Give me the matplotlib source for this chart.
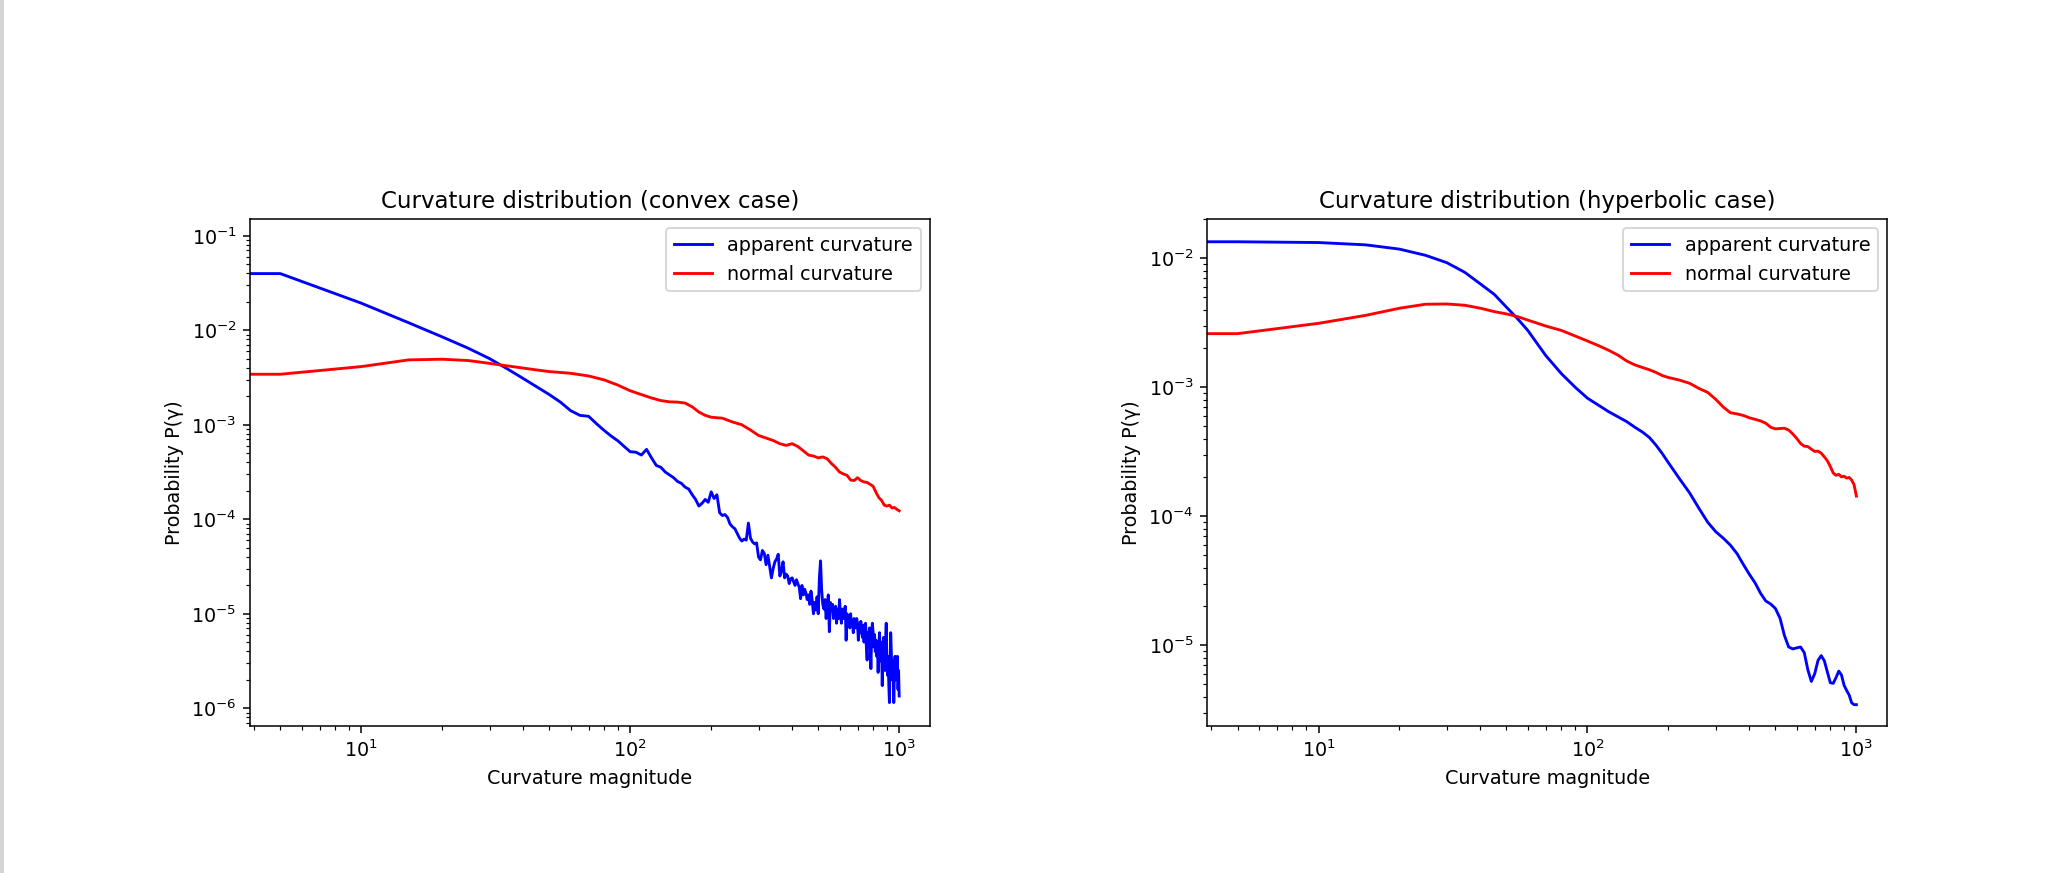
import numpy as np
import matplotlib
matplotlib.use('Agg')
import matplotlib.pyplot as plt
from matplotlib.patches import Rectangle

# bin positions (curvature magnitude)
bins = np.arange(0, 1001, 5)
x_smooth = [0, 5, 10, 15, 20, 25, 30, 35, 40, 45, 50, 55, 60,
            70, 80, 90, 100, 110, 120, 130, 140, 150, 160, 170, 180, 190, 200,
            220, 240, 260, 280, 300, 320, 340, 360, 380, 400, 420, 440, 460, 480,
            500, 520, 540, 560, 580, 600, 620, 640, 660, 680, 700, 720, 740, 760,
            780, 800, 820, 840, 860, 880, 900, 920, 940, 960, 980, 1000]

# log10 of probability
convex_apparent_log = [-1.064,
    -1.40, -1.713, -1.92, -2.07, -2.19, -2.30, -2.41, -2.51, -2.60, -2.68,
    -2.76, -2.85, -2.90, -2.91, -2.99, -3.06, -3.12, -3.17, -3.23, -3.285,
    -3.29, -3.32, -3.26, -3.35, -3.43, -3.45, -3.50, -3.53, -3.56, -3.60,
    -3.62, -3.66, -3.68, -3.74, -3.79, -3.86, -3.83, -3.79, -3.82, -3.71,
    -3.78, -3.74, -3.93, -3.96, -3.95, -3.98, -4.05, -4.08, -4.10, -4.15,
    -4.20, -4.23, -4.21, -4.22, -4.04, -4.20, -4.24, -4.26, -4.25, -4.40,
    -4.43, -4.33, -4.36, -4.48, -4.38, -4.50, -4.62, -4.52, -4.45, -4.42,
    -4.37, -4.60, -4.55, -4.45, -4.62, -4.58, -4.60, -4.68, -4.63, -4.62,
    -4.66, -4.70, -4.64, -4.68, -4.72, -4.84, -4.70, -4.80, -4.74, -4.78,
    -4.85, -4.80, -4.90, -4.76, -4.86, -5.00, -4.88, -4.96, -4.82, -5.00,
    -4.62, -4.44, -4.75, -4.90, -4.95, -4.85, -5.05, -4.92, -4.80, -5.19,
    -4.88, -4.96, -4.90, -5.05, -4.97, -4.92, -5.10, -4.95, -5.05, -4.85,
    -5.00, -5.10, -4.95, -5.05, -5.00, -4.92, -5.28, -5.00, -5.10, -5.05,
    -5.15, -5.00, -5.12, -5.08, -5.20, -5.05, -5.13, -5.15, -5.05, -5.10,
    -5.28, -5.12, -5.20, -5.08, -5.18, -5.25, -5.12, -5.30, -5.15, -5.10,
    -5.35, -5.49, -5.20, -5.25, -5.15, -5.30, -5.58, -5.20, -5.10, -5.20,
    -5.35, -5.22, -5.40, -5.28, -5.45, -5.30, -5.62, -5.35, -5.20, -5.40,
    -5.50, -5.30, -5.76, -5.40, -5.25, -5.45, -5.60, -5.30, -5.10, -5.50,
    -5.65, -5.45, -5.75, -5.94, -5.55, -5.20, -5.40, -5.70, -5.50, -5.55,
    -5.94, -5.60, -5.45, -5.70, -5.48, -5.52, -5.45, -5.80, -5.60, -5.87]

convex_normal_log = [-2.465, -2.465, -2.384, -2.313, -2.306, -2.32, -2.35, -2.377, -2.40, -2.42,
    -2.437, -2.446, -2.455, -2.483, -2.525, -2.58, -2.64, -2.68, -2.716, -2.744,
    -2.757, -2.76, -2.77, -2.81, -2.865, -2.90, -2.92, -2.93, -2.97, -3.00,
    -3.055, -3.113, -3.14, -3.166, -3.20, -3.218, -3.20, -3.23, -3.275, -3.32,
    -3.33, -3.35, -3.34, -3.36, -3.41, -3.45, -3.50, -3.52, -3.535, -3.585,
    -3.59, -3.56, -3.59, -3.605, -3.61, -3.63, -3.65, -3.715, -3.77, -3.80,
    -3.85, -3.86, -3.85, -3.88, -3.875, -3.895, -3.91]

hyper_apparent_log = [-1.873, -1.873, -1.879, -1.897, -1.93, -1.978, -2.035, -2.11, -2.20, -2.28,
    -2.38, -2.47, -2.56, -2.755, -2.895, -3.00, -3.085, -3.14, -3.19, -3.23,
    -3.267, -3.31, -3.347, -3.39, -3.45, -3.516, -3.585, -3.71, -3.82, -3.94,
    -4.046, -4.12, -4.17, -4.224, -4.29, -4.374, -4.45, -4.516, -4.596, -4.656,
    -4.68, -4.715, -4.79, -4.924, -5.013, -5.028, -5.02, -5.013, -5.057, -5.19,
    -5.28, -5.22, -5.117, -5.08, -5.12, -5.207, -5.29, -5.295, -5.25, -5.20,
    -5.23, -5.31, -5.35, -5.385, -5.445, -5.46, -5.46]

hyper_normal_log = [-2.585, -2.585, -2.505, -2.443, -2.388, -2.357, -2.355, -2.365, -2.388, -2.414,
    -2.432, -2.453, -2.48, -2.526, -2.56, -2.603, -2.642, -2.678, -2.714, -2.752,
    -2.797, -2.827, -2.847, -2.865, -2.886, -2.91, -2.925, -2.945, -2.97, -3.01,
    -3.04, -3.094, -3.154, -3.198, -3.207, -3.219, -3.237, -3.249, -3.261, -3.279,
    -3.31, -3.323, -3.32, -3.318, -3.332, -3.362, -3.397, -3.436, -3.457, -3.46,
    -3.48, -3.498, -3.495, -3.511, -3.54, -3.57, -3.615, -3.665, -3.683, -3.675,
    -3.695, -3.69, -3.704, -3.70, -3.719, -3.755, -3.844]

dpi = 137.5
fig = plt.figure(figsize=(2069.2 / dpi, 873.2 / dpi), dpi=dpi)
ax1 = fig.add_axes([0.1208, 0.1684, 0.3287, 0.5808])
ax2 = fig.add_axes([0.5834, 0.1684, 0.3287, 0.5808])

ax1.plot(bins, 10 ** np.array(convex_apparent_log), color='blue', label='apparent curvature')
ax1.plot(x_smooth, 10 ** np.array(convex_normal_log), color='red', label='normal curvature')
ax1.set_xscale('log')
ax1.set_yscale('log')
ax1.set_xlim(10 ** 0.586, 10 ** 3.115)
ax1.set_ylim(10 ** -6.187, 10 ** -0.82)
ax1.set_title('Curvature distribution (convex case)')
ax1.set_xlabel('Curvature magnitude')
ax1.set_ylabel('Probability P(γ)')
ax1.legend(loc='upper right')

ax2.plot(x_smooth, 10 ** np.array(hyper_apparent_log), color='blue', label='apparent curvature')
ax2.plot(x_smooth, 10 ** np.array(hyper_normal_log), color='red', label='normal curvature')
ax2.set_xscale('log')
ax2.set_yscale('log')
ax2.set_xlim(10 ** 0.586, 10 ** 3.115)
ax2.set_ylim(10 ** -5.625, 10 ** -1.695)
ax2.set_title('Curvature distribution (hyperbolic case)')
ax2.set_xlabel('Curvature magnitude')
ax2.set_ylabel('Probability P(γ)')
ax2.legend(loc='upper right')

# thin grey strip on the left edge of the screenshot
fig.patches.append(Rectangle((0, 0), 2.5 / 2069, 1, transform=fig.transFigure,
                             color='#d4d4d4', zorder=0))

plt.savefig('out.png', dpi=dpi)
